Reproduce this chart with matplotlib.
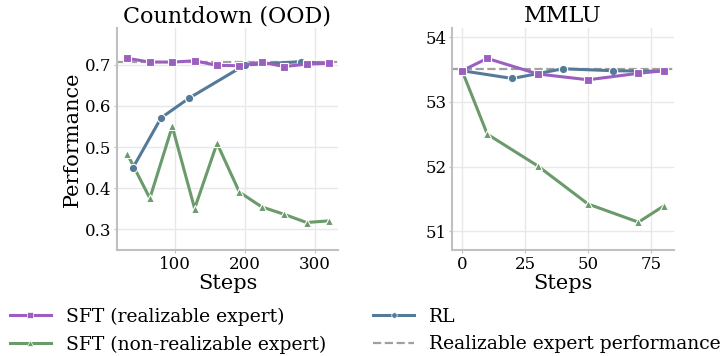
import matplotlib.pyplot as plt
import numpy as np

# Countdown (OOD)
cd_sft_steps = [32, 64, 96, 128, 160, 192, 224, 256, 288, 320]
cd_sft_real = [0.716, 0.707, 0.707, 0.710, 0.699, 0.698, 0.707, 0.696, 0.702, 0.704]
cd_sft_nonreal = [0.482, 0.375, 0.550, 0.350, 0.509, 0.390, 0.354, 0.336, 0.316, 0.320]
cd_rl_steps = [40, 80, 120, 200, 280, 320]
cd_rl = [0.450, 0.571, 0.619, 0.700, 0.708, 0.703]
cd_expert = 0.708

# MMLU
mm_sft_steps = [0, 10, 30, 50, 70, 80]
mm_sft_real = [53.48, 53.67, 53.43, 53.34, 53.44, 53.48]
mm_sft_nonreal_steps = [0, 10, 30, 50, 70, 80]
mm_sft_nonreal = [53.48, 52.50, 52.01, 51.42, 51.14, 51.39]
mm_rl_steps = [0, 20, 40, 60, 80]
mm_rl = [53.48, 53.36, 53.51, 53.48, 53.47]
mm_expert = 53.51

PURPLE = "#9b5fc0"
BLUE = "#557a98"
GREEN = "#6b9a6b"
GRAY = "#a0a0a0"

plt.rcParams["font.family"] = "DejaVu Serif"

fig = plt.figure(figsize=(7.25, 3.56), dpi=100)
ax1 = fig.add_axes([117 / 725, 1 - 250 / 356, 221 / 725, 222 / 356])
ax2 = fig.add_axes([452 / 725, 1 - 250 / 356, 222 / 725, 222 / 356])

line_kw = dict(linewidth=2.2, markeredgecolor="white", markeredgewidth=0.8)


def style(ax):
    ax.grid(True, color="#e8e8e8", linewidth=1.0)
    ax.set_axisbelow(True)
    for side in ["top", "right"]:
        ax.spines[side].set_visible(False)
    for side in ["left", "bottom"]:
        ax.spines[side].set_color("#c0c0c0")
        ax.spines[side].set_linewidth(1.5)
    ax.tick_params(labelsize=12, length=2, color="#c0c0c0", pad=2)
    ax.set_xlabel("Steps", fontsize=15, labelpad=1)


# left panel
ax1.axhline(cd_expert, color=GRAY, linestyle="--", linewidth=1.6, zorder=1)
ax1.plot(cd_sft_steps, cd_sft_nonreal, color=GREEN, marker="^", markersize=6, **line_kw)
ax1.plot(cd_rl_steps, cd_rl, color=BLUE, marker="o", markersize=6, **line_kw)
ax1.plot(cd_sft_steps, cd_sft_real, color=PURPLE, marker="s", markersize=6, **line_kw)
ax1.set_xlim(17, 333)
ax1.set_ylim(0.249, 0.79)
ax1.set_xticks([100, 200, 300])
ax1.set_yticks([0.3, 0.4, 0.5, 0.6, 0.7])
ax1.set_title("Countdown (OOD)", fontsize=16, pad=4)
ax1.set_ylabel("Performance", fontsize=15, labelpad=2)
style(ax1)

# right panel
ax2.axhline(mm_expert, color=GRAY, linestyle="--", linewidth=1.6, zorder=1)
ax2.plot(mm_sft_nonreal_steps, mm_sft_nonreal, color=GREEN, marker="^", markersize=6, **line_kw)
ax2.plot(mm_rl_steps, mm_rl, color=BLUE, marker="o", markersize=6, **line_kw)
ax2.plot(mm_sft_steps, mm_sft_real, color=PURPLE, marker="s", markersize=6, **line_kw)
ax2.set_xlim(-4, 84.1)
ax2.set_ylim(50.71, 54.14)
ax2.set_xticks([0, 25, 50, 75])
ax2.set_yticks([51, 52, 53, 54])
ax2.set_title("MMLU", fontsize=16, pad=4)
style(ax2)

handles = [
    plt.Line2D([], [], color=PURPLE, marker="s", markersize=4, linewidth=2.2, markeredgecolor="white", markeredgewidth=0.5),
    plt.Line2D([], [], color=GREEN, marker="^", markersize=4, linewidth=2.2, markeredgecolor="white", markeredgewidth=0.5),
    plt.Line2D([], [], color=BLUE, marker="o", markersize=4, linewidth=2.2, markeredgecolor="white", markeredgewidth=0.5),
    plt.Line2D([], [], color=GRAY, linestyle="--", linewidth=1.6),
]
labels = ["SFT (realizable expert)", "SFT (non-realizable expert)", "RL", "Realizable expert performance"]
fig.legend(handles, labels, loc="lower left", bbox_to_anchor=(-0.002, -0.025), ncol=2, frameon=False,
           fontsize=13.5, handlelength=2.2, columnspacing=2.5, handletextpad=0.8, labelspacing=0.5,
           borderaxespad=0.2)

fig.savefig("out.png", dpi=100)
